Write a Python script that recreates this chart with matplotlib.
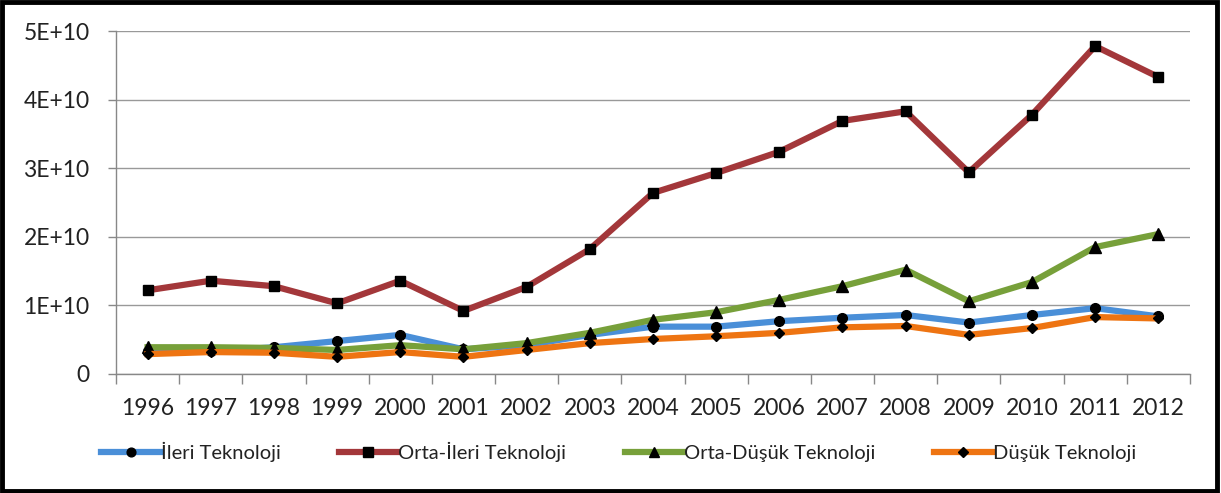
import matplotlib
matplotlib.use("Agg")
import matplotlib.pyplot as plt
from matplotlib.patches import Rectangle
from matplotlib.ticker import FixedLocator

plt.rcParams['font.family'] = ['Lato', 'DejaVu Sans']

years = ["1996", "1997", "1998", "1999", "2000", "2001", "2002", "2003", "2004",
         "2005", "2006", "2007", "2008", "2009", "2010", "2011", "2012"]
ileri = [0.33, 0.33, 0.39, 0.48, 0.57, 0.36, 0.42, 0.57, 0.69, 0.69, 0.77, 0.82,
         0.86, 0.75, 0.86, 0.96, 0.84]
orta_ileri = [1.22, 1.36, 1.28, 1.03, 1.36, 0.92, 1.27, 1.82, 2.64, 2.93, 3.24,
              3.69, 3.83, 2.94, 3.78, 4.78, 4.33]
orta_dusuk = [0.39, 0.39, 0.38, 0.35, 0.42, 0.36, 0.45, 0.60, 0.79, 0.90, 1.08,
              1.28, 1.52, 1.06, 1.34, 1.85, 2.04]
dusuk = [0.29, 0.32, 0.31, 0.25, 0.32, 0.25, 0.35, 0.45, 0.51, 0.55, 0.60, 0.68,
         0.70, 0.57, 0.67, 0.83, 0.81]
scale = 1e10
y_ticks = [0, 1e10, 2e10, 3e10, 4e10, 5e10]
y_labels = ["0", "1E+10", "2E+10", "3E+10", "4E+10", "5E+10"]
names = ["İleri Teknoloji", "Orta-İleri Teknoloji", "Orta-Düşük Teknoloji", "Düşük Teknoloji"]

fig = plt.figure(figsize=(12.21, 4.93), dpi=100)
fig.patches.append(Rectangle((0.002, 0.004), 0.995, 0.992, transform=fig.transFigure,
                             fill=False, edgecolor="black", linewidth=3.5))
ax = fig.add_axes([0.095, 0.2414, 0.8795, 0.6956])

x = list(range(len(years)))
series = [
    (ileri, "#4A8FD8", "o", 7),
    (orta_ileri, "#A3373A", "s", 7.5),
    (orta_dusuk, "#77A03A", "^", 8),
    (dusuk, "#EE7412", "D", 5.5),
]
order = [1, 2, 0, 3]
handles = [None] * 4
for i in order:
    vals, col, mk, ms = series[i]
    h, = ax.plot(x, [v * scale for v in vals], color=col, linewidth=4.5, marker=mk,
                 markersize=ms, markerfacecolor="black", markeredgecolor="black",
                 zorder=3 + i * 0.1, label=names[i])
    handles[i] = h

ax.set_xlim(-0.5, len(years) - 0.5)
ax.set_ylim(0, 5e10)
ax.set_yticks(y_ticks)
ax.set_yticklabels(y_labels)
ax.set_xticks(x)
ax.set_xticklabels(years)
ax.xaxis.set_minor_locator(FixedLocator([i - 0.5 for i in range(len(years) + 1)]))
ax.tick_params(axis="x", which="major", length=0, pad=17, labelsize=16.5, labelcolor="#222222")
ax.tick_params(axis="x", which="minor", length=7, color="#888888", width=1)
ax.tick_params(axis="y", length=6, color="#888888", width=1, labelsize=16.5, pad=13,
               labelcolor="#222222")
ax.grid(axis="y", color="#999999", linewidth=1)
ax.set_axisbelow(True)
for s in ["top", "right"]:
    ax.spines[s].set_visible(False)
for s in ["left", "bottom"]:
    ax.spines[s].set_color("#888888")
    ax.spines[s].set_linewidth(1)

fig.legend(handles=handles, labels=names, loc="center", bbox_to_anchor=(0.507, 0.083),
           ncol=4, frameon=False, fontsize=14.5, handlelength=2.9, handletextpad=0.05,
           columnspacing=2.9, markerscale=0.9, labelcolor="#222222")

fig.savefig("out.png", dpi=100)
